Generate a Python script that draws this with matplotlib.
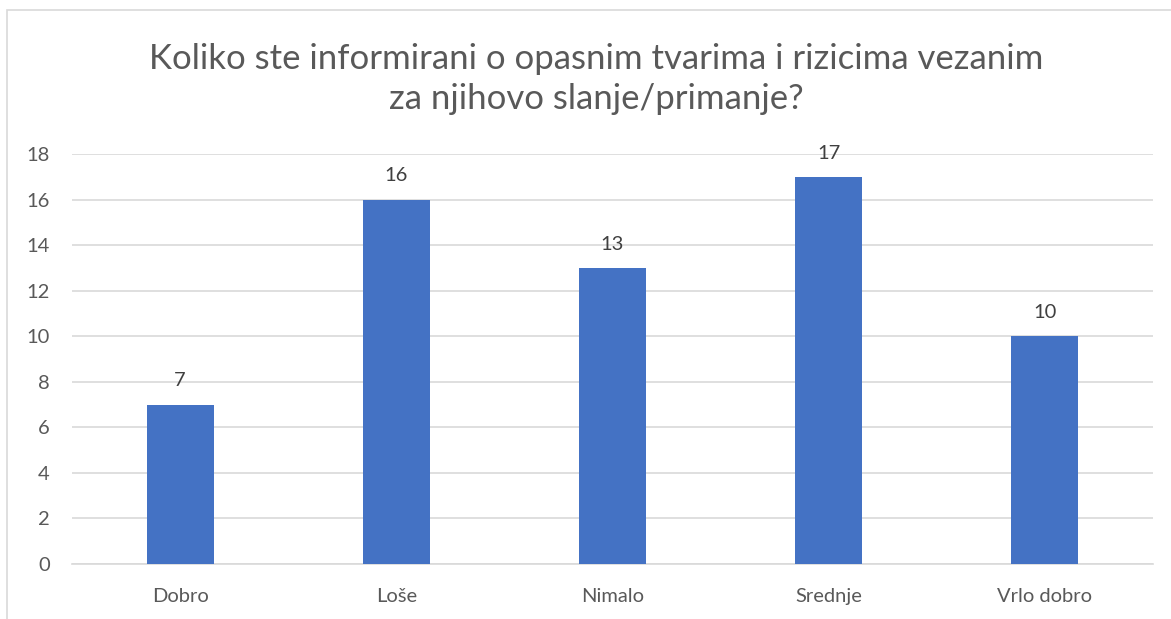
import matplotlib.pyplot as plt
from matplotlib.patches import Rectangle

categories = ['Dobro', 'Loše', 'Nimalo', 'Srednje', 'Vrlo dobro']
counts = [7, 16, 13, 17, 10]
yticks = [0, 2, 4, 6, 8, 10, 12, 14, 16, 18]

text_color = '#595959'
grid_color = '#d9d9d9'
bar_color = '#4472c4'

plt.rcParams['font.family'] = ['Lato', 'DejaVu Sans']

W, H = 1171, 619
fig = plt.figure(figsize=(W / 100, H / 100), dpi=100)

# light chart border (only left and top are visible in the crop)
fig.patches.append(Rectangle((7 / W, -0.1), 1.2, 1 - 10 / H + 0.1,
                             transform=fig.transFigure, fill=False,
                             edgecolor=grid_color, linewidth=1.2))

ax = fig.add_axes([72 / W, 1 - 564 / H, (1153 - 72) / W, (564 - 154) / H])

x = range(len(categories))
bars = ax.bar(x, counts, width=0.31, color=bar_color, zorder=3)

ax.set_xlim(-0.5, len(categories) - 0.5)
ax.set_ylim(0, 18)
ax.set_yticks(yticks)
ax.set_xticks(list(x))
ax.set_xticklabels(categories)
ax.yaxis.grid(True, color=grid_color, linewidth=1.2, zorder=0)
ax.tick_params(length=0, labelsize=14.5, colors=text_color)
ax.tick_params(axis='x', pad=17)
ax.tick_params(axis='y', pad=16)
for side in ['top', 'right', 'left']:
    ax.spines[side].set_visible(False)
ax.spines['bottom'].set_color(grid_color)
ax.spines['bottom'].set_linewidth(1.2)

for b, v in zip(bars, counts):
    ax.annotate(str(v), (b.get_x() + b.get_width() / 2, v), xytext=(0, 11),
                textcoords='offset points', ha='center', va='bottom',
                fontsize=14.5, color='#404040')

fig.text(0.509, 1 - 79 / H,
         'Koliko ste informirani o opasnim tvarima i rizicima vezanim\nza njihovo slanje/primanje?',
         ha='center', va='center', fontsize=25, color=text_color, linespacing=1.3)

fig.savefig('out.png', dpi=100)
